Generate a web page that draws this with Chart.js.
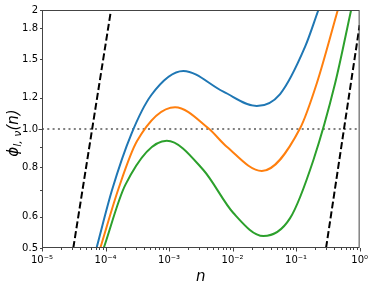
<!DOCTYPE html>
<html>
<head>
<meta charset="utf-8">
<script src="https://cdn.jsdelivr.net/npm/chart.js@4/dist/chart.umd.min.js"></script>
<style>
  html, body { margin: 0; padding: 0; background: #fff; }
  canvas { display: block; }
</style>
</head>
<body>
<canvas id="chart" width="374" height="291"></canvas>
<script>
// curves (n, phi)
const blueN = [7.216e-5, 1.266e-4, 2.548e-4, 5.264e-4, 1.68e-3, 7.163e-3, 2.405e-2, 5.598e-2, 0.1386, 0.2245];
const blueY = [0.5, 0.701, 0.971, 1.219, 1.402, 1.243, 1.143, 1.226, 1.615, 2.0];

const orangeN = [8.28e-5, 1.614e-4, 3.134e-4, 1.243e-3, 4.157e-3, 8.1e-3, 2.884e-2, 0.1156, 0.2118, 0.4535];
const orangeY = [0.5, 0.709, 0.932, 1.135, 1.004, 0.902, 0.783, 1.004, 1.305, 2.0];

const greenN = [9.37e-5, 2.05e-4, 9.2e-4, 3.469e-3, 1.029e-2, 3.055e-2, 8.04e-2, 0.1873, 0.4113, 0.7346];
const greenY = [0.5, 0.722, 0.934, 0.7875, 0.613, 0.536, 0.595, 0.835, 1.305, 2.0];

const dashLeftN = [3.11e-5, 1.22e-4];
const dashLeftY = [0.5, 2.0];
const dashRightN = [0.296, 1.0];
const dashRightY = [0.5, 1.83];

const refN = [1e-5, 1];
const refY = [1.0, 1.0];

const xTicks = [1e-5, 1e-4, 1e-3, 1e-2, 1e-1, 1];
const xTickLabels = ['10\u207B\u2075', '10\u207B\u2074', '10\u207B\u00B3', '10\u207B\u00B2', '10\u207B\u00B9', '10\u2070'];
const yTicks = [0.5, 0.6, 0.8, 1.0, 1.2, 1.5, 1.8, 2];
const yTickLabels = ['0.5', '0.6', '0.8', '1.0', '1.2', '1.5', '1.8', '2'];
const yMinorTicks = [0.5, 0.6, 0.7, 0.8, 0.9, 1.2, 1.5, 1.8, 2];

function pairs(xs, ys) {
    return xs.map((x, i) => ({ x: x, y: ys[i] }));
}

function curve(xs, ys, color) {
    return {
        data: pairs(xs, ys),
        borderColor: color,
        borderWidth: 2,
        pointRadius: 0,
        cubicInterpolationMode: 'monotone',
        fill: false
    };
}

function dashed(xs, ys) {
    return {
        data: pairs(xs, ys),
        borderColor: '#000',
        borderWidth: 2,
        borderDash: [7, 3],
        pointRadius: 0,
        fill: false
    };
}

const AXIS = '#444';
const FONT = 'DejaVu Sans';

const frame = {
    id: 'frame',
    afterDraw(chart) {
        const ctx = chart.ctx;
        const a = chart.chartArea;
        const xs = chart.scales.x, ys = chart.scales.y;
        ctx.save();
        ctx.strokeStyle = AXIS;
        ctx.lineWidth = 1;
        ctx.strokeRect(a.left + 0.5, a.top + 0.5, a.right - a.left - 1, a.bottom - a.top - 1);

        ctx.beginPath();
        // x ticks
        for (let k = -5; k <= 0; k++) {
            const px = Math.round(xs.getPixelForValue(Math.pow(10, k))) + 0.5;
            ctx.moveTo(px, a.bottom);
            ctx.lineTo(px, a.bottom + 3.5);
            if (k < 0) {
                for (let m = 2; m <= 9; m++) {
                    const mx = Math.round(xs.getPixelForValue(m * Math.pow(10, k))) + 0.5;
                    ctx.moveTo(mx, a.bottom);
                    ctx.lineTo(mx, a.bottom + 2);
                }
            }
        }
        // y ticks
        const py1 = Math.round(ys.getPixelForValue(1.0)) + 0.5;
        ctx.moveTo(a.left, py1);
        ctx.lineTo(a.left - 3.5, py1);
        yMinorTicks.forEach(v => {
            const py = Math.round(ys.getPixelForValue(v)) + 0.5;
            ctx.moveTo(a.left, py);
            ctx.lineTo(a.left - 2, py);
        });
        ctx.stroke();

        // axis titles
        ctx.fillStyle = '#000';
        ctx.textBaseline = 'middle';
        ctx.textAlign = 'center';
        ctx.font = 'italic 15px ' + FONT;
        ctx.fillText('n', (a.left + a.right) / 2, 277);

        ctx.translate(14, (a.top + a.bottom) / 2 + 4);
        ctx.rotate(-Math.PI / 2);
        ctx.textAlign = 'left';
        const big = 'italic 15px ' + FONT;
        const small = 'italic 11px ' + FONT;
        const parts = [['\u03D5', big, 0], ['l, \u03BD', small, 4], ['(n)', big, 0]];
        let w = 0;
        parts.forEach(p => { ctx.font = p[1]; w += ctx.measureText(p[0]).width; });
        let x = -w / 2;
        parts.forEach(p => {
            ctx.font = p[1];
            ctx.fillText(p[0], x, p[2]);
            x += ctx.measureText(p[0]).width;
        });
        ctx.restore();
    }
};

new Chart(document.getElementById('chart'), {
    type: 'line',
    data: {
        datasets: [
            dashed(dashLeftN, dashLeftY),
            dashed(dashRightN, dashRightY),
            curve(blueN, blueY, '#1f77b4'),
            curve(orangeN, orangeY, '#ff7f0e'),
            curve(greenN, greenY, '#2ca02c'),
            {
                data: pairs(refN, refY),
                borderColor: '#808080',
                borderWidth: 2,
                borderDash: [2, 3.3],
                pointRadius: 0,
                fill: false
            }
        ]
    },
    options: {
        responsive: false,
        animation: false,
        devicePixelRatio: 1,
        layout: { padding: { left: 0, top: 10, right: 14, bottom: 0 } },
        plugins: {
            legend: { display: false },
            title: { display: false },
            tooltip: { enabled: false }
        },
        scales: {
            x: {
                type: 'logarithmic',
                min: 1e-5,
                max: 1,
                afterBuildTicks: s => { s.ticks = xTicks.map(v => ({ value: v })); },
                afterFit: s => { s.height = 43; },
                grid: { display: false, drawTicks: false },
                border: { display: false },
                ticks: {
                    autoSkip: false,
                    maxRotation: 0,
                    padding: 6,
                    color: '#000',
                    font: { family: FONT, size: 10 },
                    callback: v => {
                        const i = xTicks.indexOf(v);
                        return i >= 0 ? xTickLabels[i] : '';
                    }
                }
            },
            y: {
                type: 'logarithmic',
                min: 0.5,
                max: 2,
                afterBuildTicks: s => { s.ticks = yTicks.map(v => ({ value: v })); },
                afterFit: s => { s.width = 42; },
                grid: { display: false, drawTicks: false },
                border: { display: false },
                ticks: {
                    autoSkip: false,
                    padding: 4,
                    color: '#000',
                    font: { family: FONT, size: 10 },
                    callback: v => {
                        const i = yTicks.indexOf(v);
                        return i >= 0 ? yTickLabels[i] : '';
                    }
                }
            }
        }
    },
    plugins: [frame]
});
</script>
</body>
</html>
